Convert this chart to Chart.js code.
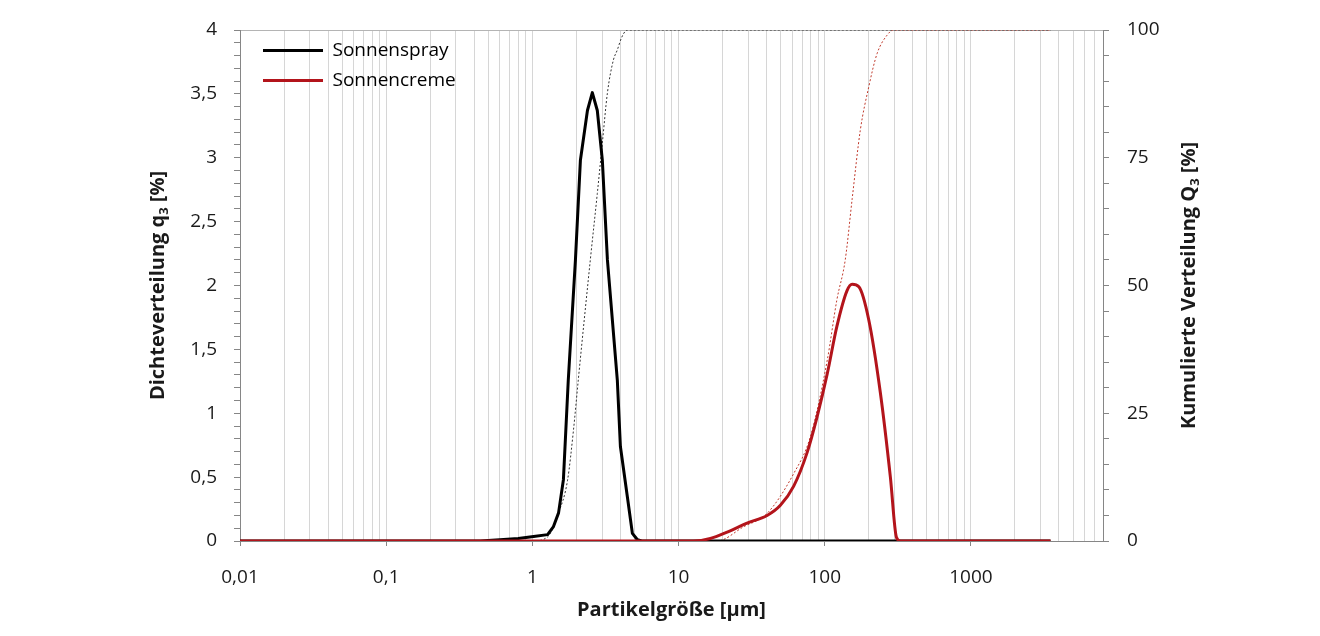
<!DOCTYPE html>
<html lang="de">
<head>
<meta charset="utf-8">
<title>Partikelgrößenverteilung</title>
<script src="https://cdn.jsdelivr.net/npm/chart.js@4.4.0/dist/chart.umd.min.js"></script>
<style>
  html, body { margin: 0; padding: 0; background: #fff; }
  #chart { display: block; }
</style>
</head>
<body>
<canvas id="chart" width="1320" height="636"></canvas>
<script>
// Dichteverteilung q3 [%] - Sonnenspray
const sprayX = [0.01, 0.44, 0.6, 0.8, 1.02, 1.27, 1.39, 1.51, 1.63, 1.76, 1.97, 2.13, 2.38, 2.57, 2.78, 3.01, 3.26, 3.81, 4.0, 4.47, 4.83, 5.23, 5.6, 3500];
const sprayQ = [0, 0, 0.01, 0.02, 0.035, 0.05, 0.11, 0.22, 0.48, 1.26, 2.2, 2.98, 3.37, 3.51, 3.37, 2.98, 2.2, 1.26, 0.74, 0.34, 0.06, 0.01, 0, 0];

// Kumulierte Verteilung Q3 [%] - Sonnenspray
const sprayCumX = [0.01, 1.0, 1.27, 1.51, 1.74, 1.91, 2.06, 2.49, 2.78, 3.01, 3.26, 3.58, 3.81, 4.06, 4.33, 4.5, 3500];
const sprayCum = [0, 0, 0.8, 5.5, 11.9, 21.7, 31.5, 55, 68, 77.9, 87.7, 94.1, 96.1, 98.4, 99.8, 100, 100];

// Dichteverteilung q3 [%] - Sonnencreme
const cremeX = [0.01, 12.6, 16.5, 21.5, 29.4, 40.3, 49.7, 61.3, 75.6, 88.5, 104, 121, 142, 154, 171, 200, 240, 281, 309, 329, 3500];
const cremeQ = [0, 0, 0.02, 0.07, 0.14, 0.2, 0.28, 0.43, 0.69, 0.97, 1.31, 1.68, 1.96, 2.01, 1.99, 1.73, 1.16, 0.5, 0.03, 0, 0];

// Kumulierte Verteilung Q3 [%] - Sonnencreme
const cremeCumX = [0.01, 18.3, 27.9, 40.3, 61.3, 79.7, 104, 121, 138, 154, 175, 200, 228, 267, 295, 3500];
const cremeCum = [0, 0, 2.8, 5.4, 13.2, 20.4, 35.4, 47.2, 55, 67, 80.4, 88.9, 95.4, 99, 100, 100];

const seriesNames = ['Sonnenspray', 'Sonnencreme'];
const xDecades = [0.01, 0.1, 1, 10, 100, 1000];
const xTickLabels = ['0,01', '0,1', '1', '10', '100', '1000'];

// axis titles with subscript: [text before, subscript, text after]
const leftTitle = ['Dichteverteilung q', '3', ' [%]'];
const rightTitle = ['Kumulierte Verteilung Q', '3', ' [%]'];

const BLACK = '#000000';
const RED = '#b3141b';
const AXIS = '#868686';
const GRID = '#d6d6d6';
const TEXT = '#1a1a1a';
const FONT = "'Open Sans', 'Noto Sans', sans-serif";

const toPoints = (xs, ys) => xs.map((x, i) => ({ x: x, y: ys[i] }));

Chart.defaults.font.family = FONT;
Chart.defaults.color = TEXT;

// legend sits inside the plot, top left
const legendPlace = {
    id: 'legendPlace',
    afterLayout(chart) {
        const a = chart.chartArea;
        chart.legend.left = a.left + 12;
        chart.legend.top = a.top;
    }
};

// vertical titles, both reading bottom to top, with a real subscript
function drawTitle(ctx, cx, cy, parts) {
    const big = 'bold 20px ' + FONT;
    const small = 'bold 13px ' + FONT;
    ctx.save();
    ctx.translate(cx, cy);
    ctx.rotate(-Math.PI / 2);
    ctx.fillStyle = TEXT;
    ctx.textBaseline = 'alphabetic';
    ctx.textAlign = 'left';
    ctx.font = big;
    const w0 = ctx.measureText(parts[0]).width;
    const w2 = ctx.measureText(parts[2]).width;
    ctx.font = small;
    const w1 = ctx.measureText(parts[1]).width;
    let x = -(w0 + w1 + w2) / 2;
    ctx.font = big;
    ctx.fillText(parts[0], x, 7);
    x += w0;
    ctx.font = small;
    ctx.fillText(parts[1], x, 11);
    x += w1;
    ctx.font = big;
    ctx.fillText(parts[2], x, 7);
    ctx.restore();
}

const sideTitles = {
    id: 'sideTitles',
    afterDraw(chart) {
        const a = chart.chartArea;
        const cy = (a.top + a.bottom) / 2;
        drawTitle(chart.ctx, 157, cy, leftTitle);
        drawTitle(chart.ctx, chart.width - 132, cy, rightTitle);
    }
};

new Chart(document.getElementById('chart'), {
    type: 'line',
    data: {
        datasets: [
            {
                label: seriesNames[0],
                data: toPoints(sprayX, sprayQ),
                yAxisID: 'y',
                borderColor: BLACK,
                borderWidth: 3,
                pointRadius: 0,
                tension: 0,
                borderJoinStyle: 'round',
                order: 2
            },
            {
                label: seriesNames[1],
                data: toPoints(cremeX, cremeQ),
                yAxisID: 'y',
                borderColor: RED,
                borderWidth: 3,
                pointRadius: 0,
                cubicInterpolationMode: 'monotone',
                borderJoinStyle: 'round',
                order: 1
            },
            {
                label: seriesNames[0] + ' Q3',
                data: toPoints(sprayCumX, sprayCum),
                yAxisID: 'y2',
                borderColor: '#333333',
                borderWidth: 1,
                borderDash: [2, 2],
                pointRadius: 0,
                cubicInterpolationMode: 'monotone',
                order: 3
            },
            {
                label: seriesNames[1] + ' Q3',
                data: toPoints(cremeCumX, cremeCum),
                yAxisID: 'y2',
                borderColor: '#c0392b',
                borderWidth: 1,
                borderDash: [2, 2],
                pointRadius: 0,
                cubicInterpolationMode: 'monotone',
                order: 4
            }
        ]
    },
    options: {
        responsive: false,
        animation: false,
        layout: { padding: { top: 30, left: 0, right: 0, bottom: 0 } },
        plugins: {
            tooltip: { enabled: false },
            legend: {
                position: 'chartArea',
                align: 'start',
                labels: {
                    padding: 11,
                    usePointStyle: true,
                    pointStyleWidth: 60,
                    font: { size: 19 },
                    color: TEXT,
                    generateLabels: () => [
                        { text: seriesNames[0], pointStyle: 'line', strokeStyle: BLACK, fillStyle: BLACK, lineWidth: 3, datasetIndex: 0 },
                        { text: seriesNames[1], pointStyle: 'line', strokeStyle: RED, fillStyle: RED, lineWidth: 3, datasetIndex: 1 }
                    ]
                }
            }
        },
        scales: {
            x: {
                type: 'logarithmic',
                min: 0.01,
                max: 8000,
                afterFit: (s) => { s.height = 95; },
                afterBuildTicks: (s) => {
                    s.ticks = s.ticks.filter((t) => {
                        const m = t.value / Math.pow(10, Math.floor(Math.log10(t.value) + 1e-9));
                        return Math.abs(m - Math.round(m)) < 1e-6;
                    });
                },
                border: { color: AXIS, width: 1 },
                grid: {
                    color: GRID,
                    lineWidth: 1,
                    tickLength: 5,
                    tickColor: (c) => {
                        const v = c.tick ? c.tick.value : 0;
                        return xDecades.some((d) => Math.abs(v / d - 1) < 1e-6) ? AXIS : 'rgba(0,0,0,0)';
                    }
                },
                ticks: {
                    autoSkip: false,
                    maxRotation: 0,
                    minRotation: 0,
                    padding: 20,
                    font: { size: 19 },
                    color: TEXT,
                    callback: (value) => {
                        const i = xDecades.findIndex((d) => Math.abs(value / d - 1) < 1e-6);
                        return i >= 0 ? xTickLabels[i] : '';
                    }
                },
                title: {
                    display: true,
                    text: 'Partikelgröße [µm]',
                    font: { size: 20, weight: 'bold' },
                    color: TEXT,
                    padding: { top: 0, bottom: 14 }
                }
            },
            y: {
                position: 'left',
                min: 0,
                max: 4,
                afterFit: (s) => { s.width = 240; },
                border: { color: AXIS, width: 1 },
                grid: {
                    drawOnChartArea: true,
                    color: (c) => (c.tick && Math.abs(c.tick.value - 4) < 1e-6 ? '#b4b4b4' : 'rgba(0,0,0,0)'),
                    tickColor: AXIS,
                    tickLength: 6
                },
                ticks: {
                    stepSize: 0.1,
                    autoSkip: false,
                    padding: 17,
                    font: { size: 19 },
                    color: TEXT,
                    callback: (value) => {
                        const h = value * 2;
                        if (Math.abs(h - Math.round(h)) > 1e-6) return '';
                        return String(Math.round(h) / 2).replace('.', ',');
                    }
                }
            },
            y2: {
                position: 'right',
                min: 0,
                max: 100,
                afterFit: (s) => { s.width = 217; },
                border: { color: AXIS, width: 1 },
                grid: {
                    drawOnChartArea: false,
                    tickColor: AXIS,
                    tickLength: 6
                },
                ticks: {
                    stepSize: 5,
                    autoSkip: false,
                    padding: 18,
                    font: { size: 19 },
                    color: TEXT,
                    callback: (value) => (Math.round(value) % 25 === 0 ? String(Math.round(value)) : '')
                }
            }
        }
    },
    plugins: [legendPlace, sideTitles]
});
</script>
</body>
</html>
